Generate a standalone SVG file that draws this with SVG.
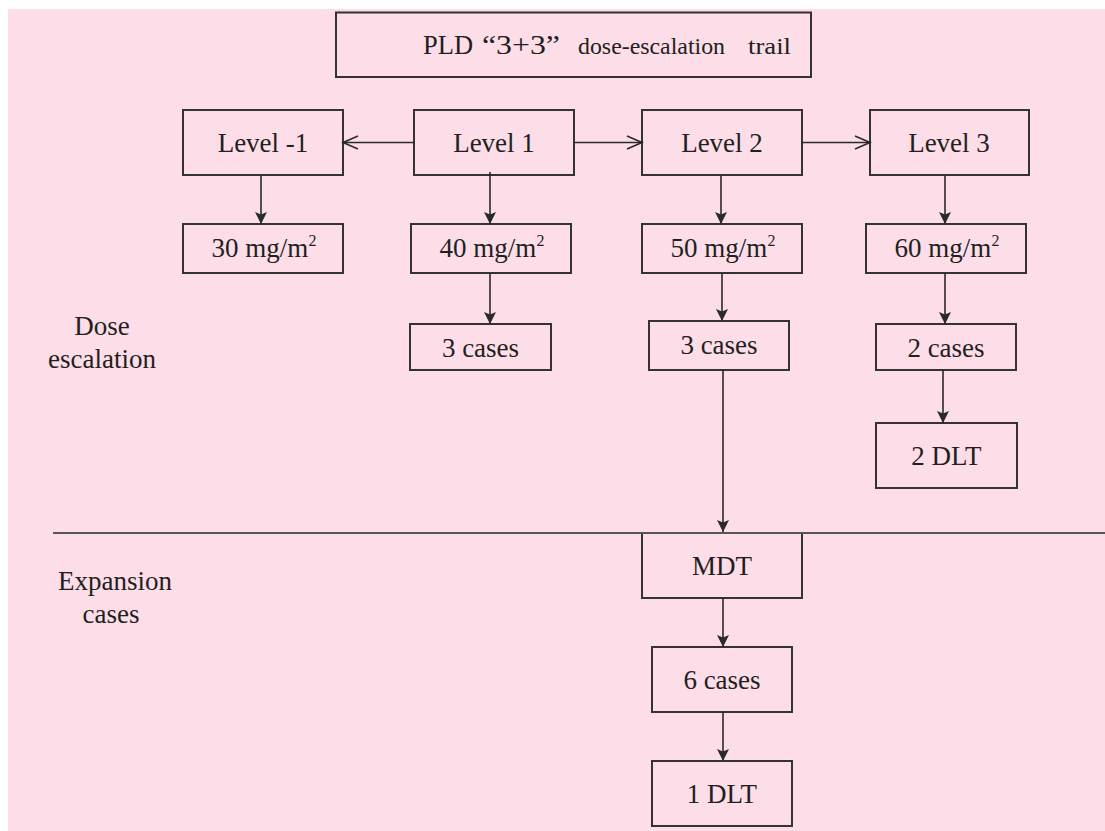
<svg xmlns="http://www.w3.org/2000/svg" width="1105" height="831" viewBox="0 0 1105 831">
<style>
.bg{fill:#fcdde8}
.box{fill:none;stroke:#333;stroke-width:2}
.t{font-family:"Liberation Serif","Times New Roman",serif;font-size:27px;fill:#231f20;text-anchor:middle}
.lbl{font-family:"Liberation Serif","Times New Roman",serif;font-size:27px;fill:#231f20;text-anchor:middle}
.c{stroke:#2a2a2a;stroke-width:1.6;fill:none}
.sup{font-size:16px}
</style>
<defs>
<marker id="fa" markerUnits="userSpaceOnUse" markerWidth="13" markerHeight="13" refX="12" refY="6.5" orient="auto">
<path d="M0,0.5 L12,6.5 L0,12.5 L2.5,6.5 Z" fill="#2a2a2a"/>
</marker>
<marker id="oa" markerUnits="userSpaceOnUse" markerWidth="18" markerHeight="16" refX="16" refY="7.5" orient="auto">
<path d="M1,1 L16,7.5 L1,14" fill="none" stroke="#2a2a2a" stroke-width="1.6"/>
</marker>
</defs>
<rect class="bg" x="8" y="9" width="1097" height="822"/>

<g id="title">
<rect class="box" x="336" y="12.5" width="475" height="64.5"/>
<text class="t" style="text-anchor:start" y="54"><tspan x="423" textLength="50" lengthAdjust="spacingAndGlyphs">PLD</tspan><tspan x="482" textLength="78" lengthAdjust="spacingAndGlyphs">“3+3”</tspan><tspan x="578" font-size="23" textLength="147" lengthAdjust="spacingAndGlyphs">dose-escalation</tspan><tspan x="748" font-size="23" textLength="43" lengthAdjust="spacingAndGlyphs">trail</tspan></text>
</g>

<g id="label-dose">
<text class="lbl" x="102" y="335">Dose</text>
<text class="lbl" x="102" y="368">escalation</text>
</g>
<g id="label-expansion">
<text class="lbl" x="115" y="590">Expansion</text>
<text class="lbl" x="111" y="623">cases</text>
</g>

<g id="levelm1"><rect class="box" x="183" y="110" width="160" height="65"/><text class="t" x="263" y="151.5">Level -1</text></g>
<g id="level1"><rect class="box" x="414" y="110" width="160" height="65"/><text class="t" x="494" y="151.5">Level 1</text></g>
<g id="level2"><rect class="box" x="642" y="110" width="160" height="65"/><text class="t" x="722" y="151.5">Level 2</text></g>
<g id="level3"><rect class="box" x="870" y="110" width="159" height="65"/><text class="t" x="949" y="151.5">Level 3</text></g>

<g id="dose30"><rect class="box" x="183" y="224" width="160" height="49"/><text class="t" x="264" y="257">30 mg/m<tspan class="sup" dy="-11">2</tspan></text></g>
<g id="dose40"><rect class="box" x="411" y="224" width="160" height="49"/><text class="t" x="492" y="257">40 mg/m<tspan class="sup" dy="-11">2</tspan></text></g>
<g id="dose50"><rect class="box" x="642" y="224" width="160" height="49"/><text class="t" x="723" y="257">50 mg/m<tspan class="sup" dy="-11">2</tspan></text></g>
<g id="dose60"><rect class="box" x="866" y="224" width="160" height="49"/><text class="t" x="947" y="257">60 mg/m<tspan class="sup" dy="-11">2</tspan></text></g>

<g id="cases3a"><rect class="box" x="410" y="324" width="141" height="46"/><text class="t" x="480.5" y="356.5">3 cases</text></g>
<g id="cases3b"><rect class="box" x="649" y="321" width="140" height="49"/><text class="t" x="719" y="354">3 cases</text></g>
<g id="cases2"><rect class="box" x="876" y="324" width="140" height="46"/><text class="t" x="946" y="356.5">2 cases</text></g>
<g id="dlt2"><rect class="box" x="876" y="423" width="141" height="65"/><text class="t" x="946.5" y="465">2 DLT</text></g>

<g id="mdt"><rect class="box" x="642" y="533" width="160" height="65"/><text class="t" x="722" y="575">MDT</text></g>
<g id="cases6"><rect class="box" x="652" y="647" width="140" height="65"/><text class="t" x="722" y="689">6 cases</text></g>
<g id="dlt1"><rect class="box" x="652" y="761" width="140" height="65"/><text class="t" x="722" y="803">1 DLT</text></g>

<g id="connectors">
<line x1="53" y1="533" x2="1105" y2="533" stroke="#555" stroke-width="2"/>
<line class="c" x1="414" y1="142.5" x2="343" y2="142.5" marker-end="url(#oa)"/>
<line class="c" x1="574" y1="142.5" x2="642" y2="142.5" marker-end="url(#oa)"/>
<line class="c" x1="802" y1="142.5" x2="870" y2="142.5" marker-end="url(#oa)"/>
<line class="c" x1="261" y1="175" x2="261" y2="224" marker-end="url(#fa)"/>
<line class="c" x1="490" y1="172" x2="490" y2="224" marker-end="url(#fa)"/>
<line class="c" x1="721" y1="175" x2="721" y2="224" marker-end="url(#fa)"/>
<line class="c" x1="945" y1="175" x2="945" y2="224" marker-end="url(#fa)"/>
<line class="c" x1="490" y1="273" x2="490" y2="324" marker-end="url(#fa)"/>
<line class="c" x1="722" y1="273" x2="722" y2="321" marker-end="url(#fa)"/>
<line class="c" x1="945" y1="273" x2="945" y2="324" marker-end="url(#fa)"/>
<line class="c" x1="943" y1="370" x2="943" y2="423" marker-end="url(#fa)"/>
<line class="c" x1="723" y1="370" x2="723" y2="532" marker-end="url(#fa)"/>
<line class="c" x1="723" y1="598" x2="723" y2="647" marker-end="url(#fa)"/>
<line class="c" x1="723" y1="712" x2="723" y2="761" marker-end="url(#fa)"/>
</g>
</svg>
